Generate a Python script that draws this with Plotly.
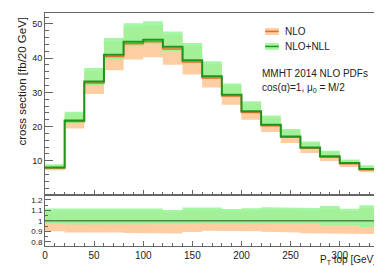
import plotly.graph_objects as go

edges = [0, 20, 40, 60, 80, 100, 120, 140, 160, 180, 200, 220, 240, 260, 280, 300, 320, 340]
nll = [8.0, 21.8, 33.2, 41.0, 44.8, 45.4, 43.3, 39.4, 34.7, 29.3, 24.45, 20.55, 17.1, 13.9, 11.3, 9.33, 7.57]
nll_hi = [8.95, 24.3, 37.1, 45.9, 50.2, 50.8, 47.8, 44.4, 39.1, 32.6, 27.4, 23.2, 19.3, 15.6, 12.9, 10.4, 8.7]
nll_lo = [7.8, 21.04, 32.04, 39.57, 43.46, 44.04, 42.0, 38.22, 33.83, 28.71, 23.96, 20.14, 16.76, 13.55, 10.85, 8.96, 7.12]
nlo = [7.85, 21.45, 32.75, 40.45, 44.2, 44.8, 42.7, 38.85, 34.2, 28.9, 24.1, 20.25, 16.85, 13.65, 11.05, 9.15, 7.4]
nlo_hi = [8.75, 23.75, 36.3, 44.9, 49.1, 49.7, 46.7, 43.4, 38.2, 31.9, 26.8, 22.7, 18.9, 15.2, 12.6, 10.2, 8.5]
nlo_lo = [7.2, 19.4, 29.5, 36.45, 39.6, 40.25, 38.1, 35.2, 31.4, 26.4, 22.0, 18.4, 15.2, 12.25, 9.94, 8.2, 6.62]

GREEN_FILL = "rgba(150,245,150,0.88)"
ORANGE_FILL = "rgb(255,205,162)"
NLO_LINE = "rgb(232,110,40)"
NLL_LINE = "rgb(30,150,30)"


def step_xy(vals):
    xs, ys = [], []
    for i, v in enumerate(vals):
        xs += [edges[i], edges[i + 1]]
        ys += [v, v]
    return xs, ys


def band(lo, hi):
    xu, yu = step_xy(hi)
    xl, yl = step_xy(lo)
    return xu + xl[::-1], yu + yl[::-1]


fig = go.Figure()

# top panel
bx, by = band(nlo_lo, nlo_hi)
fig.add_trace(go.Scatter(x=bx, y=by, fill="toself", fillcolor=ORANGE_FILL, line=dict(width=0),
                         mode="lines", hoverinfo="skip", xaxis="x", yaxis="y"))
bx, by = band(nll_lo, nll_hi)
fig.add_trace(go.Scatter(x=bx, y=by, fill="toself", fillcolor=GREEN_FILL, line=dict(width=0),
                         mode="lines", hoverinfo="skip", xaxis="x", yaxis="y"))
lx, ly = step_xy(nlo)
fig.add_trace(go.Scatter(x=lx, y=ly, mode="lines", line=dict(color=NLO_LINE, width=1.5),
                         xaxis="x", yaxis="y"))
lx, ly = step_xy(nll)
fig.add_trace(go.Scatter(x=lx, y=ly, mode="lines", line=dict(color=NLL_LINE, width=2),
                         xaxis="x", yaxis="y"))

# ratio panel
r_nlo_lo = [a / b for a, b in zip(nlo_lo, nll)]
r_nlo_hi = [a / b for a, b in zip(nlo_hi, nll)]
r_nll_lo = [a / b for a, b in zip(nll_lo, nll)]
r_nll_hi = [a / b for a, b in zip(nll_hi, nll)]
r_one = [a / b for a, b in zip(nll, nll)]
bx, by = band(r_nlo_lo, r_nlo_hi)
fig.add_trace(go.Scatter(x=bx, y=by, fill="toself", fillcolor=ORANGE_FILL, line=dict(width=0),
                         mode="lines", hoverinfo="skip", xaxis="x2", yaxis="y2"))
bx, by = band(r_nll_lo, r_nll_hi)
fig.add_trace(go.Scatter(x=bx, y=by, fill="toself", fillcolor=GREEN_FILL, line=dict(width=0),
                         mode="lines", hoverinfo="skip", xaxis="x2", yaxis="y2"))
lx, ly = step_xy(r_one)
fig.add_trace(go.Scatter(x=lx, y=ly, mode="lines", line=dict(color="rgb(80,135,80)", width=1.5),
                         xaxis="x2", yaxis="y2"))

FONT = "Liberation Sans, Arial, sans-serif"
AX = "#666666"
TXT = "#222222"
split = 0.219

fig.update_layout(
    width=382, height=267,
    margin=dict(l=37, r=11, t=5, b=29),
    paper_bgcolor="white", plot_bgcolor="white",
    showlegend=False,
    font=dict(family=FONT, size=10, color=TXT),
    xaxis=dict(domain=[0, 1], range=[0, 340], anchor="y", showticklabels=False,
               ticks="inside", ticklen=5, tickcolor=AX, dtick=50, tick0=0,
               minor=dict(ticks="inside", ticklen=3, dtick=10, tickcolor=AX),
               showgrid=False, zeroline=False, showline=True, linecolor=AX, linewidth=1, mirror=True),
    yaxis=dict(domain=[split, 1], range=[0, 53.2], anchor="x",
               tickvals=[10, 20, 30, 40, 50], ticks="inside", ticklen=8, tickcolor=AX,
               minor=dict(ticks="inside", ticklen=4, dtick=2, tick0=0, tickcolor=AX),
               tickfont=dict(size=9), showgrid=False, zeroline=False,
               showline=True, linecolor=AX, linewidth=1, mirror=True),
    xaxis2=dict(domain=[0, 1], range=[0, 340], anchor="y2", matches="x",
                ticks="inside", ticklen=5, tickcolor=AX, dtick=50, tick0=0,
                minor=dict(ticks="inside", ticklen=3, dtick=10, tickcolor=AX),
                tickfont=dict(size=10), showgrid=False, zeroline=False,
                showline=True, linecolor=AX, linewidth=1, mirror=True),
    yaxis2=dict(domain=[0, split], range=[0.76, 1.247], anchor="x2",
                tickvals=[0.8, 0.9, 1.0, 1.1, 1.2], ticktext=["0.8", "0.9", "1", "1.1", "1.2"],
                ticks="inside", ticklen=6, tickcolor=AX,
                minor=dict(ticks="inside", ticklen=3, dtick=0.05, tick0=0, tickcolor=AX),
                tickfont=dict(size=8), showgrid=False, zeroline=False,
                showline=True, linecolor=AX, linewidth=1, mirror=True),
)

# legend (manual)
shapes = []
for (y0, y1, fc, lc) in [(0.906, 0.936, ORANGE_FILL, NLO_LINE), (0.842, 0.871, GREEN_FILL, NLL_LINE)]:
    shapes.append(dict(type="rect", xref="paper", yref="paper", x0=0.659, x1=0.700, y0=y0, y1=y1,
                       fillcolor=fc, line=dict(width=0)))
    ym = (y0 + y1) / 2
    shapes.append(dict(type="line", xref="paper", yref="paper", x0=0.659, x1=0.700, y0=ym, y1=ym,
                       line=dict(color=lc, width=1.5)))
fig.update_layout(shapes=shapes)

ann = [
    dict(text="NLO", x=0.712, y=0.921, xanchor="left", yanchor="middle", font=dict(size=10)),
    dict(text="NLO+NLL", x=0.712, y=0.857, xanchor="left", yanchor="middle", font=dict(size=10)),
    dict(text="MMHT 2014 NLO PDFs", x=0.644, y=0.742, xanchor="left", yanchor="middle", font=dict(size=10)),
    dict(text="cos(α)=1, μ<sub>0</sub> = M/2", x=0.644, y=0.676, xanchor="left", yanchor="middle", font=dict(size=10)),
    dict(text="cross section [fb/20 GeV]", x=-0.069, y=0.706, xanchor="center", yanchor="middle",
         textangle=-90, font=dict(size=11.5)),
    dict(text="P<sub>T</sub> top [GeV]", x=0.997, y=-0.058, xanchor="right", yanchor="middle",
         font=dict(size=10)),
]
for a in ann:
    a.update(xref="paper", yref="paper", showarrow=False)
fig.update_layout(annotations=ann)

fig.write_html("out.html")
